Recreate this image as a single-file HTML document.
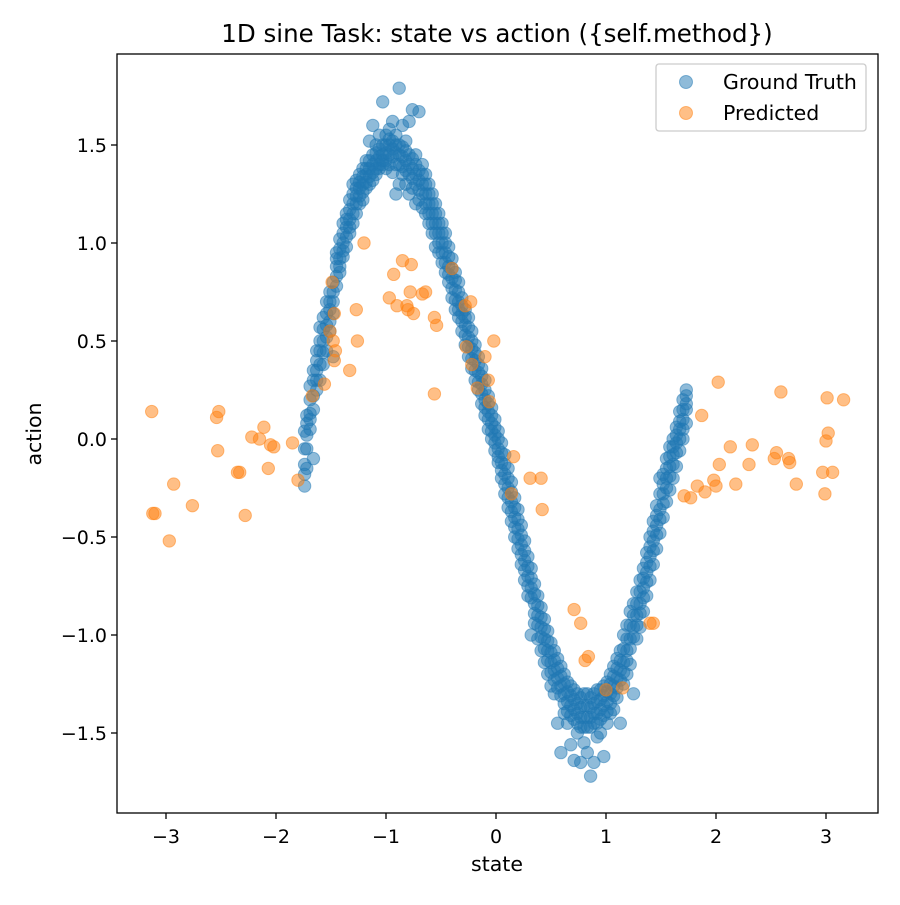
<!DOCTYPE html>
<html><head><meta charset="utf-8"><style>
html,body{margin:0;padding:0;background:#fff;}
svg text{font-family:"DejaVu Sans","Liberation Sans",sans-serif;fill:#000;}
</style></head><body>
<svg id="chart" width="900" height="900" xmlns="http://www.w3.org/2000/svg">
<rect width="900" height="900" fill="#fff"/>
<text x="497" y="42" font-size="24.5" text-anchor="middle">1D sine Task: state vs action ({self.method})</text>
<g id="gt"></g>
<g id="pred"></g>
<rect x="117" y="54" width="761" height="759" fill="none" stroke="#000" stroke-width="1.3"/>
<g id="xt"></g>
<g id="yt"></g>
<text x="497" y="871" font-size="20.5" text-anchor="middle">state</text>
<text transform="translate(41,434) rotate(-90)" font-size="20.5" text-anchor="middle">action</text>
<g>
<rect x="656" y="64" width="210" height="67" rx="3" fill="#fff" fill-opacity="0.8" stroke="#ccc" stroke-width="1.3"/>
<g>
<circle cx="686" cy="82" r="6.5" fill="#1f77b4" fill-opacity="0.5" stroke="#1f77b4" stroke-opacity="0.5"/>
<text x="723" y="89" font-size="20.5">Ground Truth</text></g>
<g>
<circle cx="686" cy="113" r="6.5" fill="#ff7f0e" fill-opacity="0.5" stroke="#ff7f0e" stroke-opacity="0.5"/>
<text x="723" y="120" font-size="20.5">Predicted</text></g>
</g>
</svg>
<script>
const xTicks=[-3,-2,-1,0,1,2,3];
const yTicks=[-1.5,-1.0,-0.5,0.0,0.5,1.0,1.5];
const gtStates=[-1.74,-1.72,-1.69,-1.66,-1.63,-1.60,-1.57,-1.54,-1.51,-1.48,-1.45,-1.42,-1.39,-1.36,-1.33,-1.30,-1.27,-1.24,-1.21,-1.18,-1.15,-1.12,-1.09,-1.06,-1.03,-1.00,-0.97,-0.94,-0.91,-0.88,-0.85,-0.82,-0.79,-0.76,-0.73,-0.70,-0.67,-0.64,-0.61,-0.58,-0.55,-0.52,-0.49,-0.46,-0.43,-0.40,-0.37,-0.34,-0.31,-0.28,-0.25,-0.22,-0.19,-0.16,-0.13,-0.10,-0.07,-0.04,-0.01,0.02,0.05,0.08,0.11,0.14,0.17,0.20,0.23,0.26,0.29,0.32,0.35,0.38,0.41,0.44,0.47,0.50,0.53,0.56,0.59,0.62,0.65,0.68,0.71,0.74,0.77,0.80,0.83,0.86,0.89,0.92,0.95,0.98,1.01,1.04,1.07,1.10,1.13,1.16,1.19,1.22,1.25,1.28,1.31,1.34,1.37,1.40,1.43,1.46,1.49,1.52,1.55,1.58,1.61,1.64,1.67,1.70,1.73];
const gtActions=[[-0.24,-0.13,-0.18,-0.05,0.04],[0.02,0.12,-0.15,0.08,-0.05],[0.05,0.20,0.13,0.27,0.10],[0.30,0.15,-0.10,0.22,0.35],[0.35,0.25,0.40,0.30,0.45],[0.45,0.30,0.57,0.38,0.50],[0.50,0.38,0.62,0.44,0.56],[0.58,0.70,0.45,0.64,0.52],[0.66,0.75,0.55,0.70,0.60],[0.80,0.70,0.42,0.75,0.64],[0.88,0.78,0.95,0.83,0.92],[0.92,1.02,0.85,0.97,0.88],[1.00,1.10,0.93,1.05,0.96],[1.08,1.15,0.98,1.12,1.03],[1.12,1.22,1.05,1.17,1.08],[1.20,1.30,1.10,1.25,1.15],[1.24,1.15,1.32,1.28,1.20],[1.28,1.35,1.20,1.31,1.24],[1.30,1.38,1.22,1.34,1.26],[1.35,1.28,1.42,1.38,1.31],[1.38,1.30,1.52,1.42,1.34],[1.40,1.60,1.32,1.45,1.36],[1.42,1.35,1.50,1.46,1.38],[1.44,1.38,1.55,1.48,1.40],[1.45,1.40,1.72,1.50,1.42],[1.46,1.38,1.55,1.50,1.42],[1.50,1.40,1.58,1.45,1.53],[1.48,1.36,1.62,1.44,1.52],[1.46,1.55,1.25,1.40,1.50],[1.45,1.79,1.30,1.40,1.50],[1.44,1.60,1.35,1.39,1.49],[1.42,1.52,1.30,1.37,1.47],[1.40,1.62,1.25,1.35,1.45],[1.38,1.68,1.28,1.33,1.43],[1.35,1.45,1.20,1.30,1.40],[1.32,1.67,1.22,1.27,1.37],[1.30,1.40,1.18,1.25,1.35],[1.25,1.35,1.15,1.20,1.30],[1.20,1.30,1.10,1.15,1.25],[1.15,1.25,1.05,1.10,1.20],[1.10,1.20,0.98,1.05,1.15],[1.05,1.15,0.95,1.00,1.10],[1.00,1.10,0.90,0.95,1.05],[0.95,1.05,0.85,0.90,1.00],[0.88,0.98,0.80,0.84,0.93],[0.82,0.92,0.72,0.77,0.87],[0.76,0.85,0.66,0.71,0.81],[0.70,0.80,0.62,0.66,0.75],[0.64,0.72,0.55,0.60,0.68],[0.58,0.66,0.48,0.53,0.62],[0.52,0.62,0.42,0.47,0.57],[0.46,0.55,0.36,0.41,0.50],[0.40,0.48,0.30,0.35,0.44],[0.34,0.42,0.25,0.29,0.38],[0.28,0.36,0.18,0.23,0.32],[0.20,0.30,0.12,0.16,0.25],[0.14,0.22,0.05,0.10,0.18],[0.08,0.16,0.00,0.04,0.12],[0.02,0.10,-0.06,-0.02,0.06],[-0.05,0.04,-0.12,-0.09,0.00],[-0.12,-0.02,-0.20,-0.16,-0.07],[-0.18,-0.08,-0.28,-0.23,-0.13],[-0.25,-0.15,-0.35,-0.30,-0.20],[-0.32,-0.22,-0.42,-0.37,-0.27],[-0.40,-0.30,-0.50,-0.45,-0.35],[-0.46,-0.36,-0.56,-0.51,-0.41],[-0.54,-0.44,-0.64,-0.59,-0.49],[-0.62,-0.52,-0.72,-0.67,-0.57],[-0.70,-0.60,-0.80,-0.75,-0.65],[-0.76,-0.66,-1.00,-0.81,-0.71],[-0.84,-0.74,-0.94,-0.89,-0.79],[-0.90,-0.80,-1.02,-0.95,-0.85],[-0.96,-0.86,-1.08,-1.01,-0.91],[-1.02,-0.92,-1.14,-1.07,-0.97],[-1.08,-0.98,-1.20,-1.13,-1.03],[-1.14,-1.04,-1.26,-1.19,-1.09],[-1.18,-1.08,-1.30,-1.23,-1.13],[-1.22,-1.12,-1.45,-1.27,-1.17],[-1.26,-1.16,-1.60,-1.31,-1.21],[-1.30,-1.20,-1.40,-1.35,-1.25],[-1.34,-1.24,-1.45,-1.39,-1.29],[-1.36,-1.26,-1.56,-1.41,-1.31],[-1.38,-1.28,-1.64,-1.43,-1.33],[-1.40,-1.30,-1.50,-1.45,-1.35],[-1.42,-1.32,-1.65,-1.47,-1.37],[-1.42,-1.30,-1.55,-1.47,-1.36],[-1.42,-1.30,-1.60,-1.47,-1.36],[-1.42,-1.32,-1.72,-1.47,-1.37],[-1.40,-1.30,-1.65,-1.45,-1.35],[-1.40,-1.28,-1.52,-1.45,-1.34],[-1.38,-1.28,-1.50,-1.43,-1.33],[-1.36,-1.26,-1.62,-1.41,-1.31],[-1.34,-1.24,-1.45,-1.39,-1.29],[-1.30,-1.20,-1.40,-1.35,-1.25],[-1.26,-1.16,-1.38,-1.31,-1.21],[-1.22,-1.12,-1.32,-1.27,-1.17],[-1.18,-1.08,-1.45,-1.23,-1.13],[-1.14,-1.00,-1.25,-1.19,-1.07],[-1.08,-0.95,-1.20,-1.13,-1.02],[-1.02,-0.88,-1.15,-1.07,-0.95],[-0.96,-0.84,-1.30,-1.01,-0.90],[-0.90,-0.78,-1.02,-0.95,-0.84],[-0.84,-0.72,-0.96,-0.89,-0.78],[-0.76,-0.66,-0.88,-0.81,-0.71],[-0.68,-0.58,-0.80,-0.73,-0.63],[-0.60,-0.50,-0.72,-0.65,-0.55],[-0.52,-0.42,-0.64,-0.57,-0.47],[-0.44,-0.34,-0.56,-0.49,-0.39],[-0.36,-0.20,-0.48,-0.41,-0.28],[-0.28,-0.18,-0.40,-0.33,-0.23],[-0.20,-0.10,-0.32,-0.25,-0.15],[-0.14,-0.04,-0.26,-0.19,-0.09],[-0.08,0.00,-0.20,-0.13,-0.04],[-0.02,0.06,-0.14,-0.07,0.02],[0.05,0.14,-0.06,0.00,0.09],[0.10,0.20,0.00,0.05,0.15],[0.25,0.22,0.08,0.15,0.18]];
const predStates=[-3.13,-3.12,-3.10,-2.97,-2.93,-2.76,-2.54,-2.52,-2.53,-2.35,-2.33,-2.28,-2.22,-2.15,-2.11,-2.07,-2.05,-2.02,-1.85,-1.80,-1.67,-1.56,-1.51,-1.49,-1.48,-1.47,-1.47,-1.46,-1.33,-1.27,-1.26,-1.20,-0.97,-0.93,-0.90,-0.85,-0.81,-0.80,-0.78,-0.77,-0.75,-0.67,-0.64,-0.56,-0.56,-0.54,-0.40,-0.28,-0.23,-0.27,-0.22,-0.17,-0.10,-0.07,-0.06,-0.02,0.16,0.14,0.31,0.41,0.42,0.71,0.77,0.81,0.84,1.00,1.15,1.40,1.43,1.71,1.77,1.83,1.87,1.90,1.98,2.00,2.02,2.03,2.13,2.18,2.30,2.33,2.53,2.55,2.59,2.66,2.67,2.73,2.97,2.99,3.00,3.01,3.02,3.06,3.16];
const predActions=[0.14,-0.38,-0.38,-0.52,-0.23,-0.34,0.11,0.14,-0.06,-0.17,-0.17,-0.39,0.01,0.00,0.06,-0.15,-0.03,-0.04,-0.02,-0.21,0.22,0.28,0.55,0.80,0.50,0.40,0.64,0.45,0.35,0.66,0.50,1.00,0.72,0.84,0.68,0.91,0.68,0.66,0.75,0.89,0.64,0.74,0.75,0.62,0.23,0.58,0.87,0.68,0.70,0.47,0.38,0.26,0.42,0.30,0.19,0.50,-0.09,-0.28,-0.20,-0.20,-0.36,-0.87,-0.94,-1.13,-1.11,-1.28,-1.27,-0.94,-0.94,-0.29,-0.30,-0.24,0.12,-0.27,-0.21,-0.24,0.29,-0.13,-0.04,-0.23,-0.13,-0.03,-0.10,-0.07,0.24,-0.10,-0.12,-0.23,-0.17,-0.28,-0.01,0.21,0.03,-0.17,0.20];
const NS='http://www.w3.org/2000/svg';
const sx=v=>496+110*v, sy=v=>439-196*v;
function circ(g,x,y,c){const e=document.createElementNS(NS,'circle');e.setAttribute('cx',sx(x));e.setAttribute('cy',sy(y));e.setAttribute('r',6.2);e.setAttribute('fill',c);e.setAttribute('fill-opacity',0.5);e.setAttribute('stroke',c);e.setAttribute('stroke-opacity',0.5);g.appendChild(e);return e;}
const gt=document.getElementById('gt');
gtStates.forEach((s,i)=>gtActions[i].forEach(a=>{const e=circ(gt,s,a,'#1f77b4');

}));
const pr=document.getElementById('pred');
predStates.forEach((s,i)=>{const e=circ(pr,s,predActions[i],'#ff7f0e');

});
const xt=document.getElementById('xt');
xTicks.forEach(t=>{const l=document.createElementNS(NS,'line');l.setAttribute('x1',sx(t));l.setAttribute('x2',sx(t));l.setAttribute('y1',813);l.setAttribute('y2',819);l.setAttribute('stroke','#000');l.setAttribute('stroke-width','1.3');xt.appendChild(l);
const tx=document.createElementNS(NS,'text');tx.setAttribute('x',sx(t));tx.setAttribute('y',843);tx.setAttribute('font-size','19');tx.setAttribute('text-anchor','middle');tx.textContent=t<0?'\u2212'+(-t):String(t);


xt.appendChild(tx);});
const yt=document.getElementById('yt');
yTicks.forEach(t=>{const l=document.createElementNS(NS,'line');l.setAttribute('x1',111);l.setAttribute('x2',117);l.setAttribute('y1',sy(t));l.setAttribute('y2',sy(t));l.setAttribute('stroke','#000');l.setAttribute('stroke-width','1.3');yt.appendChild(l);
const tx=document.createElementNS(NS,'text');tx.setAttribute('x',107);tx.setAttribute('y',sy(t)+7);tx.setAttribute('font-size','19');tx.setAttribute('text-anchor','end');tx.textContent=(t<0?'\u2212':'')+Math.abs(t).toFixed(1);


yt.appendChild(tx);});
</script>
</body></html>
